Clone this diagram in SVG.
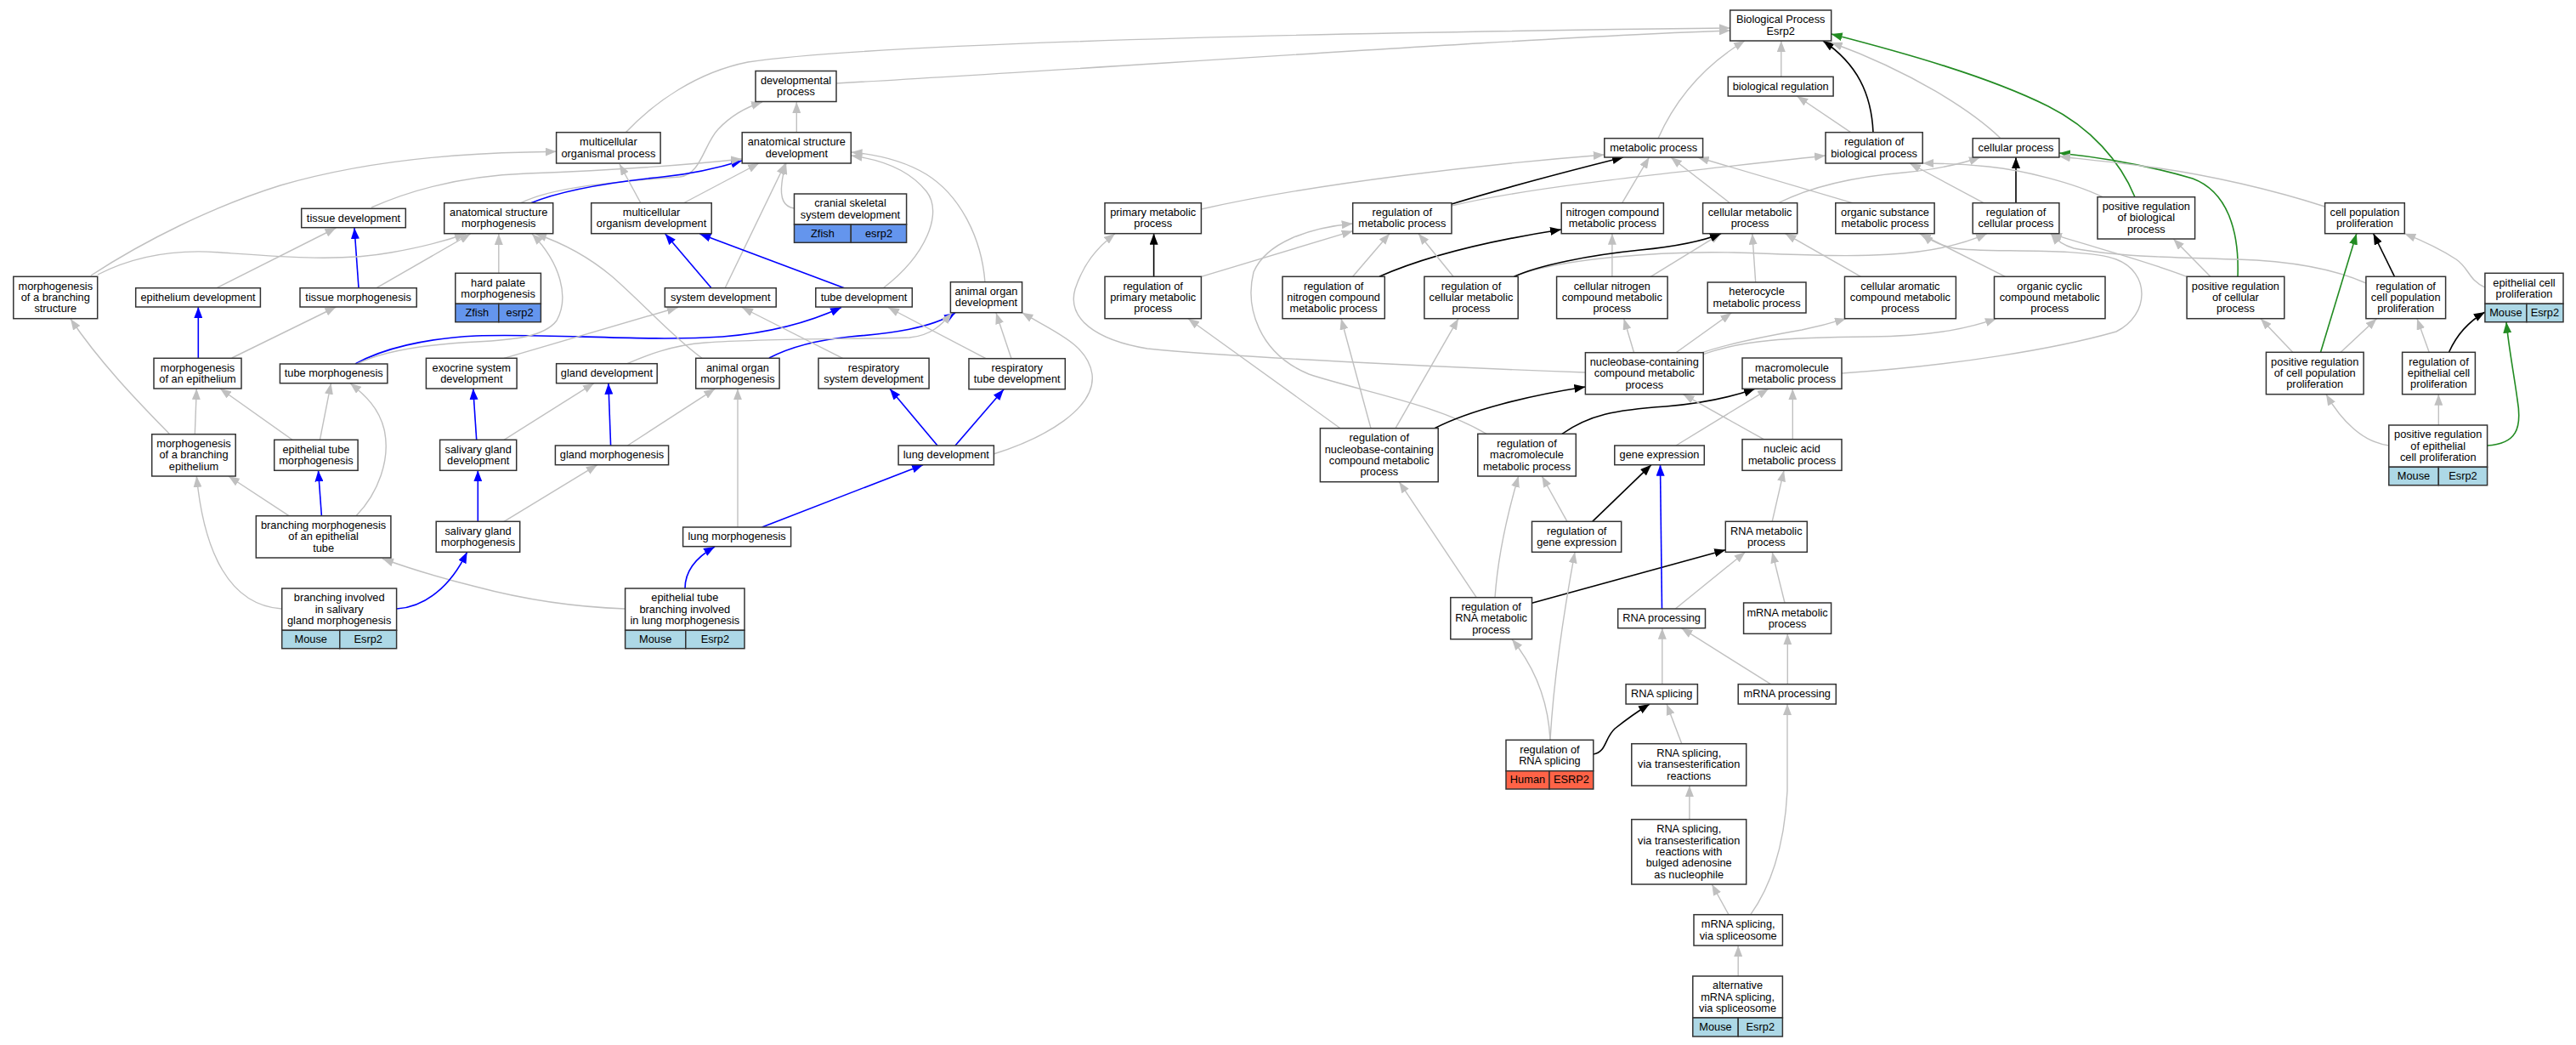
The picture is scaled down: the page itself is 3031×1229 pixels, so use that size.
<svg xmlns="http://www.w3.org/2000/svg" width="3031" height="1229" viewBox="0 0 3031 1229">
<style>
.nd rect{fill:#fff;stroke:#333;stroke-width:1.5}
.nd rect.mo{fill:#add8e6}
.nd rect.zf{fill:#6495ed}
.nd rect.hu{fill:#ff6347}
text{font-family:"Liberation Sans",Arial,sans-serif;font-size:12.8px;text-anchor:middle;fill:#000}
.e path{fill:none}
.g{stroke:#c0c0c0;stroke-width:1.4;marker-end:url(#ag)}
.b{stroke:#0000ff;stroke-width:1.6;marker-end:url(#ab)}
.k{stroke:#000;stroke-width:1.6;marker-end:url(#ak)}
.r{stroke:#228b22;stroke-width:1.6;marker-end:url(#ar)}
</style>
<defs>
<marker id="ag" viewBox="0 0 13 10" refX="13" refY="5" markerWidth="13" markerHeight="10" markerUnits="userSpaceOnUse" orient="auto"><path d="M0,0L13,5L0,10z" fill="#c0c0c0"/></marker>
<marker id="ab" viewBox="0 0 13 10" refX="13" refY="5" markerWidth="13" markerHeight="10" markerUnits="userSpaceOnUse" orient="auto"><path d="M0,0L13,5L0,10z" fill="#0000ff"/></marker>
<marker id="ak" viewBox="0 0 13 10" refX="13" refY="5" markerWidth="13" markerHeight="10" markerUnits="userSpaceOnUse" orient="auto"><path d="M0,0L13,5L0,10z" fill="#000"/></marker>
<marker id="ar" viewBox="0 0 13 10" refX="13" refY="5" markerWidth="13" markerHeight="10" markerUnits="userSpaceOnUse" orient="auto"><path d="M0,0L13,5L0,10z" fill="#228b22"/></marker>
</defs>
<rect x="0" y="0" width="3031" height="1229" fill="#fff"/>
<g id="connectors" class="e">
<path class="g" d="M937.3,155.7 L937.3,120"/>
<path class="g" d="M612,239 C650,220 720,214 800,208 C825,205 828,170 845,152 C860,136 878,126 897,120"/>
<path class="b" d="M624,239 C660,224 720,214 780,208 C820,204 850,196 873,189"/>
<path class="g" d="M107,324 C170,283 250,243 330,218 C420,192 520,181 620,179 L654.6,178.3"/>
<path class="g" d="M437,244 C480,225 540,207 620,204 C700,201 800,195 873,187"/>
<path class="g" d="M754,239 L729,193"/>
<path class="g" d="M804,239 L893,192"/>
<path class="g" d="M934.5,245 C920,243 918,230 920,215 C921,205 923,199 925,192"/>
<path class="g" d="M853,339 L924,192"/>
<path class="g" d="M1039,339 C1090,300 1110,250 1090,225 C1070,200 1040,188 1001.5,183"/>
<path class="g" d="M1159,332 C1155,280 1130,230 1090,205 C1065,190 1035,182 1001.5,179"/>
<path class="b" d="M837,338.7 L782.7,275"/>
<path class="b" d="M993.4,338.7 L823.4,275"/>
<path class="b" d="M422,338.7 L417,268"/>
<path class="g" d="M255,338.7 L395.4,268"/>
<path class="g" d="M443,338.7 L553.6,275"/>
<path class="g" d="M115,323 C160,300 210,293 260,297 C330,302 400,308 460,297 C500,290 525,283 548,275"/>
<path class="g" d="M586.8,321.3 L586.8,275"/>
<path class="g" d="M200,511 C170,480 120,430 83,375"/>
<path class="b" d="M233.3,421.3 L233.3,361"/>
<path class="g" d="M272.8,421 L395.4,361"/>
<path class="b" d="M418,428 C450,410 500,398 560,395 C650,392 760,402 850,396 C900,392 950,380 990,361.5"/>
<path class="g" d="M420,428 C450,413 500,405 560,402 C600,400 640,397 655,377 C670,350 660,310 626,275"/>
<path class="b" d="M905,421 C930,408 960,400 1000,396 C1050,392 1095,386 1124,368"/>
<path class="g" d="M738,427.7 C760,418 790,406 830,403 C900,398 1000,399 1070,397 C1095,395 1108,382 1120,368"/>
<path class="g" d="M593,421.3 L797.7,361.5"/>
<path class="g" d="M826,421.3 C790,395 760,360 720,325 C690,300 660,285 630,275"/>
<path class="g" d="M991.5,421.3 L873,361.5"/>
<path class="g" d="M1160,421.7 L1045,361.5"/>
<path class="g" d="M1190,421.7 L1172,368"/>
<path class="g" d="M1169,534 C1230,515 1290,480 1285,440 C1280,405 1240,390 1202.6,367.7"/>
<path class="b" d="M1103,524 L1047,457.3"/>
<path class="b" d="M1124,524 L1181,458"/>
<path class="b" d="M896.6,620 L1086,546.7"/>
<path class="g" d="M868,620 L868,457.3"/>
<path class="b" d="M806,692 C806,670 820,655 841,643"/>
<path class="g" d="M735.6,716 C680,714 620,706 560,690 C520,680 480,668 450,657"/>
<path class="b" d="M718.6,524 L715.9,450.7"/>
<path class="g" d="M738.4,524 L841.2,457.3"/>
<path class="g" d="M593,517.3 L698.9,450.7"/>
<path class="g" d="M593,613.3 L702.8,546.7"/>
<path class="b" d="M560.7,517.3 L556.7,457"/>
<path class="b" d="M562.3,613.3 L562.3,553.3"/>
<path class="b" d="M466.6,716 C500,714 530,690 549.6,649.3"/>
<path class="g" d="M331.7,716 C270,712 240,650 231.3,560"/>
<path class="g" d="M229.3,510.7 L231.3,457"/>
<path class="g" d="M344,517.3 L259,457"/>
<path class="g" d="M376.4,517.3 L389.5,450.7"/>
<path class="b" d="M378.4,606.7 L374.5,553.3"/>
<path class="g" d="M340,606.7 L268.9,560"/>
<path class="g" d="M419,606.7 C445,580 460,540 452,505 C446,480 430,465 412,450.7"/>
<path class="g" d="M736,156 C770,120 820,85 880,73 C1000,55 1400,40 2035.7,33"/>
<path class="g" d="M984,98 C1300,80 1800,44 2035.7,36"/>
<path class="g" d="M2095.8,90.3 L2095.8,48"/>
<path class="g" d="M1951,162.7 C1970,120 2000,80 2053,48"/>
<path class="k" d="M2204,155.7 C2202,110 2185,75 2145,48"/>
<path class="g" d="M2177.6,155.7 L2114.4,113"/>
<path class="g" d="M2354,162.7 C2320,130 2250,85 2154.7,50"/>
<path class="r" d="M2512,231.7 C2495,190 2460,150 2410,125 C2340,90 2240,62 2154.7,40"/>
<path class="r" d="M2633,325.3 C2635,270 2620,225 2580,210 C2530,195 2470,185 2423,180"/>
<path class="k" d="M2372,238.7 L2372,185"/>
<path class="g" d="M2735.6,243 C2680,225 2600,205 2520,195 C2480,190 2450,187 2423,184"/>
<path class="g" d="M2474,231.7 C2440,215 2380,200 2340,196 C2310,193 2285,192 2262.2,192"/>
<path class="g" d="M2334,238.7 L2247,192"/>
<path class="g" d="M2035.3,238.7 L1966,185"/>
<path class="g" d="M1908.7,238.7 L1940.4,185"/>
<path class="g" d="M2179.6,238.7 L1997.7,185"/>
<path class="k" d="M1708,240 C1780,218 1850,200 1910,185"/>
<path class="g" d="M1708,242 C1800,220 1950,205 2148,183"/>
<path class="g" d="M1413.4,246 C1550,215 1750,193 1887.8,182"/>
<path class="k" d="M1623,325.3 C1680,300 1760,282 1837,270"/>
<path class="g" d="M1591.7,325.3 L1635,274.7"/>
<path class="g" d="M1710,325.3 L1669,274.7"/>
<path class="k" d="M1357.6,325.3 L1357.6,274.7"/>
<path class="g" d="M1413.4,325.3 L1591.7,271.7"/>
<path class="g" d="M1577,503.7 L1398,374.7"/>
<path class="g" d="M1749,510.3 C1690,475 1600,460 1540,440 C1480,415 1465,360 1475,320 C1490,285 1540,268 1591.7,263"/>
<path class="g" d="M1613,503.7 L1578,374.7"/>
<path class="g" d="M1642,503.7 L1716,374.7"/>
<path class="k" d="M1688,503.7 C1730,482 1800,465 1865.4,455"/>
<path class="k" d="M1838,510.3 C1870,488 1900,482 1960,478 C2010,474 2040,466 2065,457.3"/>
<path class="g" d="M1865.4,438 C1700,432 1450,420 1350,410 C1290,400 1255,375 1265,340 C1275,310 1290,292 1312,274.7"/>
<path class="g" d="M1922.6,414.7 L1910.7,374.7"/>
<path class="g" d="M1972,414.7 L2037.3,368"/>
<path class="g" d="M2002,415 C2030,405 2080,395 2120,388 C2140,384 2155,380 2172,374.7"/>
<path class="g" d="M2004,416.7 C2050,400 2100,397 2200,396 C2280,395 2320,385 2349,374.7"/>
<path class="g" d="M1896.9,325.3 L1896.9,274.7"/>
<path class="g" d="M1942.3,325.3 L2025,274.7"/>
<path class="g" d="M2065.7,332 L2061.8,274.7"/>
<path class="g" d="M2189.5,325.3 L2100.5,274.7"/>
<path class="g" d="M1781.5,325.3 C1830,305 1950,295 2040,297 C2150,300 2260,310 2338,274.7"/>
<path class="k" d="M1781.5,325.3 C1810,312 1870,300 1930,294 C1970,290 2000,285 2025,274.7"/>
<path class="g" d="M2092.6,238.7 C2130,220 2180,208 2240,203 C2280,199 2310,192 2330,185"/>
<path class="g" d="M2359.5,325.3 L2258.7,274.7"/>
<path class="g" d="M2573,325.3 C2520,305 2460,290 2413,274.7"/>
<path class="g" d="M2167,439 C2300,430 2420,410 2490,390 C2530,370 2530,320 2490,305 C2450,290 2330,298 2300,292 C2285,289 2272,284 2262,274.7"/>
<path class="g" d="M2784,333 C2750,318 2700,307 2632,305 C2560,303 2490,302 2440,292 C2430,289 2420,283 2413,274.7"/>
<path class="g" d="M2600.8,325.3 L2557.3,281"/>
<path class="g" d="M2697.7,414.3 L2660,374.7"/>
<path class="r" d="M2730.5,414.3 L2772.8,274.7"/>
<path class="g" d="M2754.2,414.3 L2796.5,374.7"/>
<path class="k" d="M2817.5,325.3 L2792.6,274.7"/>
<path class="g" d="M2923.9,338 C2905,330 2905,315 2890,305 C2870,292 2850,283 2829.3,274.7"/>
<path class="g" d="M2858.2,414.3 L2844,374.7"/>
<path class="k" d="M2881.5,414.3 C2890,395 2905,378 2923.9,367"/>
<path class="g" d="M2869.3,500 L2869.3,463.7"/>
<path class="g" d="M2810.8,524 C2780,520 2755,495 2737,463.7"/>
<path class="r" d="M2926.6,524 C2960,522 2968,505 2962,470 C2958,440 2952,410 2949,378.7"/>
<path class="g" d="M1972,524 L2081,457.3"/>
<path class="g" d="M2109.3,516.7 L2109.3,457.3"/>
<path class="g" d="M2075.3,516.7 L1980.4,463.7"/>
<path class="g" d="M2085.2,613.3 L2099,553.3"/>
<path class="k" d="M1802.5,709.3 L2030.3,646.7"/>
<path class="g" d="M1971.3,716 L2053.6,649.3"/>
<path class="g" d="M2100,709 L2085.2,649.3"/>
<path class="b" d="M1955.5,716 L1953.5,546.7"/>
<path class="k" d="M1873.7,613.3 L1942.9,546.7"/>
<path class="g" d="M1844,613.3 L1814.3,560"/>
<path class="g" d="M1759,702.7 C1762,660 1772,610 1786.7,560"/>
<path class="g" d="M1737.2,702.7 L1646.3,566.7"/>
<path class="g" d="M1824,870.3 C1822,830 1810,790 1779,751.7"/>
<path class="g" d="M1824,870.3 C1828,800 1840,720 1853,649.3"/>
<path class="k" d="M1874.8,887 C1890,885 1888,868 1900,857 C1915,845 1928,836 1941,828"/>
<path class="g" d="M1978.8,874.7 L1961,828"/>
<path class="g" d="M1987.9,963.7 L1987.9,924"/>
<path class="g" d="M2034,1075.7 L2014.3,1040"/>
<path class="g" d="M2059.8,1075.7 C2085,1040 2100,990 2103,930 L2103,828"/>
<path class="g" d="M2045.2,1148 L2045.2,1112"/>
<path class="g" d="M1955.8,804.7 L1955.8,738.7"/>
<path class="g" d="M2083.5,804.7 L1978.4,738.7"/>
<path class="g" d="M2103.3,804.7 L2103.3,745.3"/>
</g>
<g id="n-developmental-process" class="nd"><rect x="889" y="83.5" width="95" height="36"/><text x="936.5" y="98.8">developmental</text><text x="936.5" y="112.2">process</text></g>
<g id="n-multicellular-organismal-process" class="nd"><rect x="654.6" y="155.7" width="122.5" height="36.3"/><text x="715.9" y="171.2">multicellular</text><text x="715.9" y="184.5">organismal process</text></g>
<g id="n-anatomical-structure-development" class="nd"><rect x="873.2" y="155.7" width="128.1" height="36.3"/><text x="937.3" y="171.2">anatomical structure</text><text x="937.3" y="184.5">development</text></g>
<g id="n-tissue-development" class="nd"><rect x="354.7" y="245.3" width="122.6" height="22.4"/><text x="416" y="260.5">tissue development</text></g>
<g id="n-anatomical-structure-morphogenesis" class="nd"><rect x="522.7" y="238.7" width="128" height="36"/><text x="586.7" y="254">anatomical structure</text><text x="586.7" y="267.4">morphogenesis</text></g>
<g id="n-multicellular-organism-development" class="nd"><rect x="695.7" y="238.7" width="141.5" height="36"/><text x="766.5" y="254">multicellular</text><text x="766.5" y="267.4">organism development</text></g>
<g id="n-cranial-skeletal-system-development" class="nd"><rect x="934.5" y="228" width="132.1" height="36"/><text x="1000.5" y="243.3">cranial skeletal</text><text x="1000.5" y="256.7">system development</text><rect class="zf" x="934.5" y="264" width="66.8" height="21.3"/><rect class="zf" x="1001.3" y="264" width="65.3" height="21.3"/><text x="967.9" y="278.7">Zfish</text><text x="1034" y="278.7">esrp2</text></g>
<g id="n-morphogenesis-of-a-branching-structure" class="nd"><rect x="15.8" y="325.3" width="98.9" height="49.4"/><text x="65.3" y="340.7">morphogenesis</text><text x="65.3" y="354">of a branching</text><text x="65.3" y="367.3">structure</text></g>
<g id="n-epithelium-development" class="nd"><rect x="159.7" y="338.7" width="146.7" height="22.3"/><text x="233" y="353.9">epithelium development</text></g>
<g id="n-tissue-morphogenesis" class="nd"><rect x="353" y="338.7" width="137.2" height="22.3"/><text x="421.6" y="353.9">tissue morphogenesis</text></g>
<g id="n-hard-palate-morphogenesis" class="nd"><rect x="535.8" y="321.3" width="100.6" height="36"/><text x="586.1" y="336.6">hard palate</text><text x="586.1" y="350">morphogenesis</text><rect class="zf" x="535.8" y="357.3" width="51" height="21.4"/><rect class="zf" x="586.8" y="357.3" width="49.6" height="21.4"/><text x="561.3" y="372">Zfish</text><text x="611.6" y="372">esrp2</text></g>
<g id="n-system-development" class="nd"><rect x="782.3" y="338.7" width="130.9" height="22.3"/><text x="847.8" y="353.9">system development</text></g>
<g id="n-tube-development" class="nd"><rect x="959.8" y="338.7" width="113.5" height="22.3"/><text x="1016.5" y="353.9">tube development</text></g>
<g id="n-animal-organ-development" class="nd"><rect x="1118.4" y="331.7" width="84.2" height="36"/><text x="1160.5" y="347">animal organ</text><text x="1160.5" y="360.4">development</text></g>
<g id="n-morphogenesis-of-an-epithelium" class="nd"><rect x="181" y="421.3" width="103" height="35.7"/><text x="232.5" y="436.5">morphogenesis</text><text x="232.5" y="449.9">of an epithelium</text></g>
<g id="n-tube-morphogenesis" class="nd"><rect x="329.4" y="428" width="126.5" height="22.7"/><text x="392.7" y="443.3">tube morphogenesis</text></g>
<g id="n-exocrine-system-development" class="nd"><rect x="501.4" y="421.3" width="106.7" height="35.7"/><text x="554.8" y="436.5">exocrine system</text><text x="554.8" y="449.9">development</text></g>
<g id="n-gland-development" class="nd"><rect x="654.6" y="427.7" width="118.6" height="23"/><text x="713.9" y="443.2">gland development</text></g>
<g id="n-animal-organ-morphogenesis" class="nd"><rect x="818.7" y="421.3" width="98.4" height="35.7"/><text x="867.9" y="436.5">animal organ</text><text x="867.9" y="449.9">morphogenesis</text></g>
<g id="n-respiratory-system-development" class="nd"><rect x="963" y="421.3" width="130.1" height="35.7"/><text x="1028" y="436.5">respiratory</text><text x="1028" y="449.9">system development</text></g>
<g id="n-respiratory-tube-development" class="nd"><rect x="1140" y="421.7" width="113.3" height="36"/><text x="1196.7" y="437">respiratory</text><text x="1196.7" y="450.4">tube development</text></g>
<g id="n-morphogenesis-of-a-branching-epithelium" class="nd"><rect x="178.7" y="510.7" width="98.5" height="49.3"/><text x="228" y="526">morphogenesis</text><text x="228" y="539.3">of a branching</text><text x="228" y="552.6">epithelium</text></g>
<g id="n-epithelial-tube-morphogenesis" class="nd"><rect x="322.7" y="517.3" width="98.4" height="36"/><text x="371.9" y="532.6">epithelial tube</text><text x="371.9" y="546">morphogenesis</text></g>
<g id="n-salivary-gland-development" class="nd"><rect x="517.6" y="517.3" width="90.1" height="36"/><text x="562.7" y="532.6">salivary gland</text><text x="562.7" y="546">development</text></g>
<g id="n-gland-morphogenesis" class="nd"><rect x="653.4" y="524" width="133.2" height="22.7"/><text x="720" y="539.3">gland morphogenesis</text></g>
<g id="n-lung-development" class="nd"><rect x="1057.1" y="524" width="112.3" height="22.7"/><text x="1113.3" y="539.3">lung development</text></g>
<g id="n-branching-morphogenesis-of-an-epithelial-tube" class="nd"><rect x="301.3" y="606.7" width="158.6" height="49.3"/><text x="380.6" y="622">branching morphogenesis</text><text x="380.6" y="635.3">of an epithelial</text><text x="380.6" y="648.6">tube</text></g>
<g id="n-salivary-gland-morphogenesis" class="nd"><rect x="513.2" y="613.3" width="98.5" height="36"/><text x="562.5" y="628.6">salivary gland</text><text x="562.5" y="642">morphogenesis</text></g>
<g id="n-lung-morphogenesis" class="nd"><rect x="803.6" y="620" width="127" height="22.7"/><text x="867.1" y="635.3">lung morphogenesis</text></g>
<g id="n-branching-involved-in-salivary-gland-morphogenesis" class="nd"><rect x="331.7" y="692" width="134.9" height="49.3"/><text x="399.2" y="707.3">branching involved</text><text x="399.2" y="720.7">in salivary</text><text x="399.2" y="734">gland morphogenesis</text><rect class="mo" x="331.7" y="741.3" width="68.1" height="21.4"/><rect class="mo" x="399.8" y="741.3" width="66.8" height="21.4"/><text x="365.7" y="756">Mouse</text><text x="433.2" y="756">Esrp2</text></g>
<g id="n-epithelial-tube-branching-involved-in-lung-morphogenesis" class="nd"><rect x="735.6" y="692" width="140.4" height="49.3"/><text x="805.8" y="707.3">epithelial tube</text><text x="805.8" y="720.7">branching involved</text><text x="805.8" y="734">in lung morphogenesis</text><rect class="mo" x="735.6" y="741.3" width="71.2" height="21.4"/><rect class="mo" x="806.8" y="741.3" width="69.2" height="21.4"/><text x="771.2" y="756">Mouse</text><text x="841.4" y="756">Esrp2</text></g>
<g id="n-biological-process" class="nd"><rect x="2035.7" y="12" width="119" height="36"/><text x="2095.2" y="27.3">Biological Process</text><text x="2095.2" y="40.7">Esrp2</text></g>
<g id="n-biological-regulation" class="nd"><rect x="2033.3" y="90.3" width="123.8" height="22.7"/><text x="2095.2" y="105.7">biological regulation</text></g>
<g id="n-metabolic-process" class="nd"><rect x="1887.8" y="162.7" width="115.8" height="22.3"/><text x="1945.7" y="177.8">metabolic process</text></g>
<g id="n-regulation-of-biological-process" class="nd"><rect x="2148" y="155.7" width="114.2" height="36.3"/><text x="2205.1" y="171.2">regulation of</text><text x="2205.1" y="184.5">biological process</text></g>
<g id="n-cellular-process" class="nd"><rect x="2321.2" y="162.7" width="101.7" height="22.3"/><text x="2372" y="177.8">cellular process</text></g>
<g id="n-primary-metabolic-process" class="nd"><rect x="1300" y="238.7" width="113.4" height="36"/><text x="1356.7" y="254">primary metabolic</text><text x="1356.7" y="267.4">process</text></g>
<g id="n-regulation-of-metabolic-process" class="nd"><rect x="1591.7" y="238.7" width="116.3" height="36"/><text x="1649.8" y="254">regulation of</text><text x="1649.8" y="267.4">metabolic process</text></g>
<g id="n-nitrogen-compound-metabolic-process" class="nd"><rect x="1837.2" y="238.7" width="120.2" height="36"/><text x="1897.3" y="254">nitrogen compound</text><text x="1897.3" y="267.4">metabolic process</text></g>
<g id="n-cellular-metabolic-process" class="nd"><rect x="2003.6" y="238.7" width="111.1" height="36"/><text x="2059.1" y="254">cellular metabolic</text><text x="2059.1" y="267.4">process</text></g>
<g id="n-organic-substance-metabolic-process" class="nd"><rect x="2159.8" y="238.7" width="116.3" height="36"/><text x="2218" y="254">organic substance</text><text x="2218" y="267.4">metabolic process</text></g>
<g id="n-regulation-of-cellular-process" class="nd"><rect x="2321.2" y="238.7" width="101.7" height="36"/><text x="2372" y="254">regulation of</text><text x="2372" y="267.4">cellular process</text></g>
<g id="n-positive-regulation-of-biological-process" class="nd"><rect x="2468" y="231.7" width="114.6" height="49.3"/><text x="2525.3" y="247">positive regulation</text><text x="2525.3" y="260.3">of biological</text><text x="2525.3" y="273.6">process</text></g>
<g id="n-cell-population-proliferation" class="nd"><rect x="2735.6" y="238.7" width="93.7" height="36"/><text x="2782.4" y="254">cell population</text><text x="2782.4" y="267.4">proliferation</text></g>
<g id="n-regulation-of-primary-metabolic-process" class="nd"><rect x="1300" y="325.3" width="113.4" height="49.4"/><text x="1356.7" y="340.7">regulation of</text><text x="1356.7" y="354">primary metabolic</text><text x="1356.7" y="367.3">process</text></g>
<g id="n-regulation-of-nitrogen-compound-metabolic-process" class="nd"><rect x="1509" y="325.3" width="120.3" height="49.4"/><text x="1569.1" y="340.7">regulation of</text><text x="1569.1" y="354">nitrogen compound</text><text x="1569.1" y="367.3">metabolic process</text></g>
<g id="n-regulation-of-cellular-metabolic-process" class="nd"><rect x="1675.9" y="325.3" width="110.3" height="49.4"/><text x="1731" y="340.7">regulation of</text><text x="1731" y="354">cellular metabolic</text><text x="1731" y="367.3">process</text></g>
<g id="n-cellular-nitrogen-compound-metabolic-process" class="nd"><rect x="1831.6" y="325.3" width="130.5" height="49.4"/><text x="1896.8" y="340.7">cellular nitrogen</text><text x="1896.8" y="354">compound metabolic</text><text x="1896.8" y="367.3">process</text></g>
<g id="n-heterocycle-metabolic-process" class="nd"><rect x="2009.2" y="332" width="115.8" height="36"/><text x="2067.1" y="347.3">heterocycle</text><text x="2067.1" y="360.7">metabolic process</text></g>
<g id="n-cellular-aromatic-compound-metabolic-process" class="nd"><rect x="2170.5" y="325.3" width="130.9" height="49.4"/><text x="2235.9" y="340.7">cellular aromatic</text><text x="2235.9" y="354">compound metabolic</text><text x="2235.9" y="367.3">process</text></g>
<g id="n-organic-cyclic-compound-metabolic-process" class="nd"><rect x="2346.5" y="325.3" width="130.5" height="49.4"/><text x="2411.7" y="340.7">organic cyclic</text><text x="2411.7" y="354">compound metabolic</text><text x="2411.7" y="367.3">process</text></g>
<g id="n-positive-regulation-of-cellular-process" class="nd"><rect x="2573.1" y="325.3" width="114.7" height="49.4"/><text x="2630.4" y="340.7">positive regulation</text><text x="2630.4" y="354">of cellular</text><text x="2630.4" y="367.3">process</text></g>
<g id="n-regulation-of-cell-population-proliferation" class="nd"><rect x="2783.9" y="325.3" width="93.7" height="49.4"/><text x="2830.7" y="340.7">regulation of</text><text x="2830.7" y="354">cell population</text><text x="2830.7" y="367.3">proliferation</text></g>
<g id="n-epithelial-cell-proliferation" class="nd"><rect x="2923.9" y="321.3" width="92.1" height="36"/><text x="2970" y="336.6">epithelial cell</text><text x="2970" y="350">proliferation</text><rect class="mo" x="2923.9" y="357.3" width="49" height="21.4"/><rect class="mo" x="2972.9" y="357.3" width="43.1" height="21.4"/><text x="2948.4" y="372">Mouse</text><text x="2994.4" y="372">Esrp2</text></g>
<g id="n-nucleobase-containing-compound-metabolic-process" class="nd"><rect x="1865.4" y="414.7" width="138.8" height="49"/><text x="1934.8" y="429.9">nucleobase-containing</text><text x="1934.8" y="443.2">compound metabolic</text><text x="1934.8" y="456.5">process</text></g>
<g id="n-macromolecule-metabolic-process" class="nd"><rect x="2050" y="421" width="117" height="36.3"/><text x="2108.5" y="436.5">macromolecule</text><text x="2108.5" y="449.9">metabolic process</text></g>
<g id="n-positive-regulation-of-cell-population-proliferation" class="nd"><rect x="2666.4" y="414.3" width="114.7" height="49.4"/><text x="2723.7" y="429.7">positive regulation</text><text x="2723.7" y="443">of cell population</text><text x="2723.7" y="456.3">proliferation</text></g>
<g id="n-regulation-of-epithelial-cell-proliferation" class="nd"><rect x="2826.6" y="414.3" width="85.8" height="49.4"/><text x="2869.5" y="429.7">regulation of</text><text x="2869.5" y="443">epithelial cell</text><text x="2869.5" y="456.3">proliferation</text></g>
<g id="n-regulation-of-nucleobase-containing-compound-metabolic-process" class="nd"><rect x="1553.4" y="503.7" width="138.8" height="63"/><text x="1622.8" y="519.2">regulation of</text><text x="1622.8" y="532.5">nucleobase-containing</text><text x="1622.8" y="545.9">compound metabolic</text><text x="1622.8" y="559.2">process</text></g>
<g id="n-regulation-of-macromolecule-metabolic-process" class="nd"><rect x="1738.8" y="510.3" width="115.5" height="49.7"/><text x="1796.5" y="525.9">regulation of</text><text x="1796.5" y="539.2">macromolecule</text><text x="1796.5" y="552.5">metabolic process</text></g>
<g id="n-gene-expression" class="nd"><rect x="1899.8" y="524" width="105.5" height="22.7"/><text x="1952.5" y="539.3">gene expression</text></g>
<g id="n-nucleic-acid-metabolic-process" class="nd"><rect x="2050" y="516.7" width="117" height="36.6"/><text x="2108.5" y="532.3">nucleic acid</text><text x="2108.5" y="545.7">metabolic process</text></g>
<g id="n-positive-regulation-of-epithelial-cell-proliferation" class="nd"><rect x="2810.8" y="500" width="115.8" height="49.3"/><text x="2868.7" y="515.3">positive regulation</text><text x="2868.7" y="528.7">of epithelial</text><text x="2868.7" y="542">cell proliferation</text><rect class="mo" x="2810.8" y="549.3" width="58.5" height="21.4"/><rect class="mo" x="2869.3" y="549.3" width="57.3" height="21.4"/><text x="2840" y="564">Mouse</text><text x="2898" y="564">Esrp2</text></g>
<g id="n-regulation-of-gene-expression" class="nd"><rect x="1802.5" y="613.3" width="105.2" height="36"/><text x="1855.1" y="628.6">regulation of</text><text x="1855.1" y="642">gene expression</text></g>
<g id="n-rna-metabolic-process" class="nd"><rect x="2030.3" y="613.3" width="96" height="36"/><text x="2078.3" y="628.6">RNA metabolic</text><text x="2078.3" y="642">process</text></g>
<g id="n-regulation-of-rna-metabolic-process" class="nd"><rect x="1706.8" y="702.7" width="95.7" height="49"/><text x="1754.6" y="717.9">regulation of</text><text x="1754.6" y="731.2">RNA metabolic</text><text x="1754.6" y="744.5">process</text></g>
<g id="n-rna-processing" class="nd"><rect x="1903.7" y="716" width="102.8" height="22.7"/><text x="1955.1" y="731.3">RNA processing</text></g>
<g id="n-mrna-metabolic-process" class="nd"><rect x="2051.6" y="709" width="103" height="36.3"/><text x="2103.1" y="724.5">mRNA metabolic</text><text x="2103.1" y="737.9">process</text></g>
<g id="n-rna-splicing" class="nd"><rect x="1913.1" y="804.7" width="84.3" height="23.3"/><text x="1955.2" y="820.3">RNA splicing</text></g>
<g id="n-mrna-processing" class="nd"><rect x="2045.2" y="804.7" width="115.1" height="23.3"/><text x="2102.7" y="820.3">mRNA processing</text></g>
<g id="n-regulation-of-rna-splicing" class="nd"><rect x="1772" y="870.3" width="102.8" height="36.4"/><text x="1823.4" y="885.8">regulation of</text><text x="1823.4" y="899.2">RNA splicing</text><rect class="hu" x="1772" y="906.7" width="51" height="21.3"/><rect class="hu" x="1823" y="906.7" width="51.8" height="21.3"/><text x="1797.5" y="921.3">Human</text><text x="1848.9" y="921.3">ESRP2</text></g>
<g id="n-rna-splicing-via-transesterification-reactions" class="nd"><rect x="1919.8" y="874.7" width="134.9" height="49.3"/><text x="1987.2" y="890">RNA splicing,</text><text x="1987.2" y="903.3">via transesterification</text><text x="1987.2" y="916.6">reactions</text></g>
<g id="n-rna-splicing-bulged-adenosine" class="nd"><rect x="1919.8" y="963.7" width="134.9" height="76.3"/><text x="1987.2" y="979.2">RNA splicing,</text><text x="1987.2" y="992.5">via transesterification</text><text x="1987.2" y="1005.8">reactions with</text><text x="1987.2" y="1019.1">bulged adenosine</text><text x="1987.2" y="1032.5">as nucleophile</text></g>
<g id="n-mrna-splicing-via-spliceosome" class="nd"><rect x="1993" y="1075.7" width="104.4" height="36.3"/><text x="2045.2" y="1091.1">mRNA splicing,</text><text x="2045.2" y="1104.5">via spliceosome</text></g>
<g id="n-alternative-mrna-splicing-via-spliceosome" class="nd"><rect x="1991.8" y="1148" width="105.6" height="49"/><text x="2044.6" y="1163.2">alternative</text><text x="2044.6" y="1176.5">mRNA splicing,</text><text x="2044.6" y="1189.8">via spliceosome</text><rect class="mo" x="1991.8" y="1197" width="53.4" height="22"/><rect class="mo" x="2045.2" y="1197" width="52.2" height="22"/><text x="2018.5" y="1212">Mouse</text><text x="2071.3" y="1212">Esrp2</text></g>
</svg>
